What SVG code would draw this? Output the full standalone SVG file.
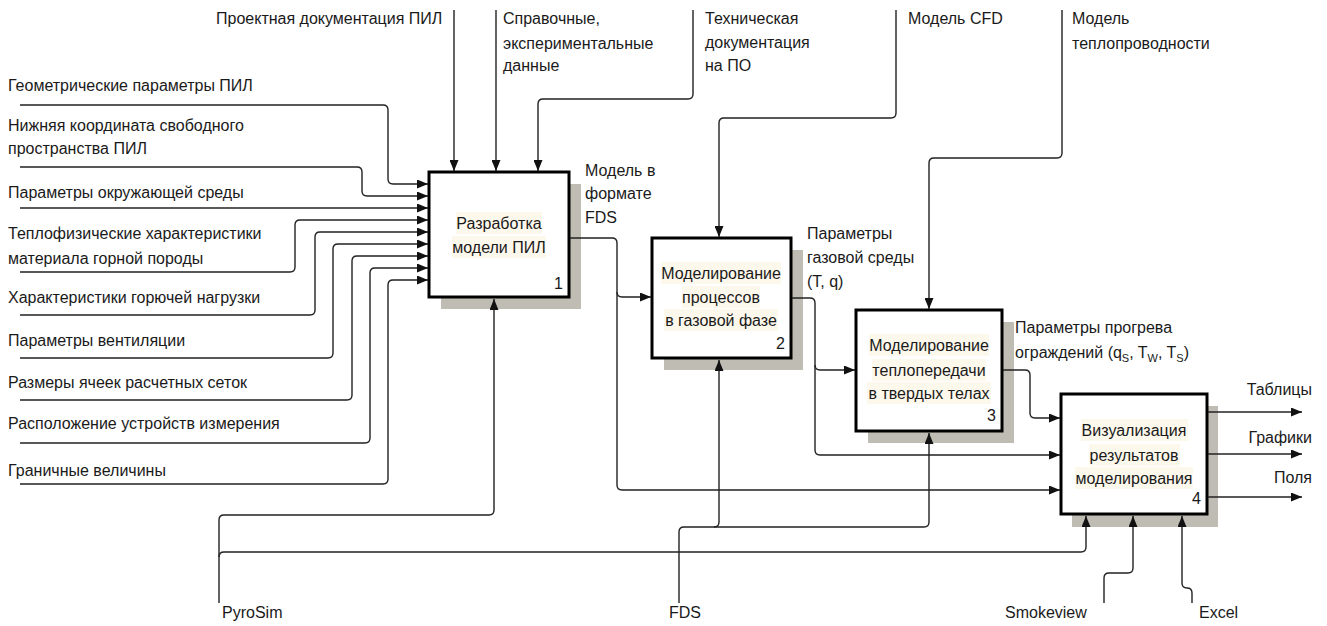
<svg xmlns="http://www.w3.org/2000/svg" width="1327" height="626" viewBox="0 0 1327 626">
<defs>
<marker id="ah" markerUnits="userSpaceOnUse" markerWidth="11" markerHeight="9" refX="11" refY="4.5" orient="auto">
<path d="M0,0 L11,4.5 L0,9 z" fill="#111"/>
</marker>
<style>
text{font-family:"Liberation Sans",Arial,sans-serif;font-size:16px;fill:#1a1a1a}
.c{text-anchor:middle}
.e{text-anchor:end}
.sub{font-size:11px}
.box{fill:#fff;stroke:#000;stroke-width:3}
.sh{fill:#bfbcb3}
.hl{fill:#fdf8ec}
.cn path{fill:none;stroke:#222;stroke-width:1.4}
.cn path.a{marker-end:url(#ah)}
</style>
</defs>
<rect width="1327" height="626" fill="#fff"/>

<g id="box1">
<rect class="sh" x="441" y="184" width="140" height="125"/>
<rect class="box" x="429" y="172" width="140" height="125"/>
<rect class="hl" x="456" y="212" width="86" height="22"/>
<rect class="hl" x="452" y="236" width="94" height="22"/>
<text class="c" x="499" y="229">Разработка</text>
<text class="c" x="499" y="253">модели ПИЛ</text>
<text class="e" x="563" y="289">1</text>
</g>

<g id="box2">
<rect class="sh" x="664" y="250" width="139" height="120"/>
<rect class="box" x="652" y="238" width="139" height="120"/>
<rect class="hl" x="661" y="262" width="120" height="22"/>
<rect class="hl" x="682" y="286" width="78" height="22"/>
<rect class="hl" x="664" y="309" width="114" height="22"/>
<text class="c" x="721" y="279">Моделирование</text>
<text class="c" x="721" y="303">процессов</text>
<text class="c" x="721" y="326">в газовой фазе</text>
<text class="e" x="785" y="349">2</text>
</g>

<g id="box3">
<rect class="sh" x="868" y="322" width="146" height="121"/>
<rect class="box" x="856" y="310" width="146" height="121"/>
<rect class="hl" x="869" y="334" width="120" height="22"/>
<rect class="hl" x="872" y="359" width="114" height="22"/>
<rect class="hl" x="867" y="382" width="124" height="22"/>
<text class="c" x="929" y="351">Моделирование</text>
<text class="c" x="929" y="376">теплопередачи</text>
<text class="c" x="929" y="399">в твердых телах</text>
<text class="e" x="996" y="421">3</text>
</g>

<g id="box4">
<rect class="sh" x="1072" y="406" width="146" height="121"/>
<rect class="box" x="1061" y="394" width="146" height="120"/>
<rect class="hl" x="1081" y="419" width="107" height="22"/>
<rect class="hl" x="1089" y="444" width="91" height="22"/>
<rect class="hl" x="1075" y="467" width="118" height="22"/>
<text class="c" x="1134" y="436">Визуализация</text>
<text class="c" x="1134" y="461">результатов</text>
<text class="c" x="1134" y="484">моделирования</text>
<text class="e" x="1201" y="504">4</text>
</g>

<g id="connectors" class="cn">
<path class="a" d="M20,105 H383 q5,0 5,5 V179 q0,5 5,5 H428"/>
<path class="a" d="M20,167 H357 q5,0 5,5 V191 q0,5 5,5 H428"/>
<path class="a" d="M20,208 H428"/>
<path class="a" d="M20,272 H290 q5,0 5,-5 V225 q0,-5 5,-5 H428"/>
<path class="a" d="M20,315 H310 q5,0 5,-5 V237 q0,-5 5,-5 H428"/>
<path class="a" d="M20,358 H328 q5,0 5,-5 V249 q0,-5 5,-5 H428"/>
<path class="a" d="M20,400 H347 q5,0 5,-5 V261 q0,-5 5,-5 H428"/>
<path class="a" d="M20,443 H365 q5,0 5,-5 V273 q0,-5 5,-5 H428"/>
<path class="a" d="M20,484 H383 q5,0 5,-5 V285 q0,-5 5,-5 H428"/>
<path class="a" d="M454,10 V171"/>
<path class="a" d="M496,10 V171"/>
<path class="a" d="M693,10 V94 q0,5 -5,5 H543 q-5,0 -5,5 V171"/>
<path class="a" d="M896,10 V113 q0,5 -5,5 H724 q-5,0 -5,5 V237"/>
<path class="a" d="M1062,10 V153 q0,5 -5,5 H934 q-5,0 -5,5 V309"/>
<path class="a" d="M570,238 H612 q5,0 5,5 V485 q0,5 5,5 H1060"/>
<path class="a" d="M617,292 q0,5 5,5 H651"/>
<path class="a" d="M792,298 H810 q5,0 5,5 V450 q0,5 5,5 H1060"/>
<path class="a" d="M815,365 q0,5 5,5 H855"/>
<path class="a" d="M1003,370 H1025 q5,0 5,5 V413 q0,5 5,5 H1060"/>
<path class="a" d="M1208,412 H1302"/>
<path class="a" d="M1208,454 H1302"/>
<path class="a" d="M1208,497 H1302"/>
<path class="a" d="M219,603 V520 q0,-5 5,-5 H489 q5,0 5,-5 V299"/>
<path class="a" d="M219,557 q0,-5 5,-5 H1081 q5,0 5,-5 V516"/>
<path class="a" d="M679,603 V532 q0,-5 5,-5 H924 q5,0 5,-5 V433"/>
<path class="a" d="M714,527 q5,0 5,-5 V360"/>
<path class="a" d="M1104,603 V578 q0,-5 5,-5 H1128 q5,0 5,-5 V516"/>
<path class="a" d="M1192,603 V593 q0,-5 -5,-5 q-5,0 -5,-5 V516"/>
</g>

<g id="labels">
<text x="8" y="91">Геометрические параметры ПИЛ</text>
<text x="8" y="131">Нижняя координата свободного</text>
<text x="8" y="154">пространства ПИЛ</text>
<text x="8" y="198">Параметры окружающей среды</text>
<text x="8" y="239">Теплофизические характеристики</text>
<text x="8" y="264">материала горной породы</text>
<text x="8" y="303">Характеристики горючей нагрузки</text>
<text x="8" y="346">Параметры вентиляции</text>
<text x="8" y="388">Размеры ячеек расчетных сеток</text>
<text x="8" y="429">Расположение устройств измерения</text>
<text x="8" y="476">Граничные величины</text>

<text x="216" y="24">Проектная документация ПИЛ</text>
<text x="503" y="24">Справочные,</text>
<text x="503" y="49">экспериментальные</text>
<text x="503" y="71">данные</text>
<text x="705" y="24">Техническая</text>
<text x="705" y="48">документация</text>
<text x="705" y="71">на ПО</text>
<text x="908" y="24">Модель CFD</text>
<text x="1072" y="24">Модель</text>
<text x="1072" y="49">теплопроводности</text>

<text x="585" y="176">Модель в</text>
<text x="585" y="199">формате</text>
<text x="585" y="223">FDS</text>
<text x="807" y="239">Параметры</text>
<text x="807" y="263">газовой среды</text>
<text x="807" y="287">(T, q)</text>
<text x="1015" y="333">Параметры прогрева</text>
<text x="1015" y="358">ограждений (q<tspan class="sub" dy="4">S</tspan><tspan dy="-4">, T</tspan><tspan class="sub" dy="4">W</tspan><tspan dy="-4">, T</tspan><tspan class="sub" dy="4">S</tspan><tspan dy="-4">)</tspan></text>

<text class="e" x="1312" y="395">Таблицы</text>
<text class="e" x="1312" y="443">Графики</text>
<text class="e" x="1312" y="483">Поля</text>

<text x="222" y="618">PyroSim</text>
<text x="669" y="618">FDS</text>
<text x="1005" y="618">Smokeview</text>
<text x="1199" y="618">Excel</text>
</g>
</svg>
